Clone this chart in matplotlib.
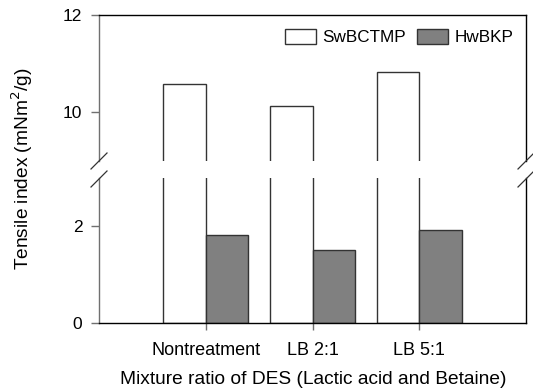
import numpy as np
import matplotlib
matplotlib.use("Agg")
import matplotlib.pyplot as plt
from matplotlib.lines import Line2D

plt.rcParams['font.family'] = ['Liberation Sans', 'DejaVu Sans']

# data
groups = ["Nontreatment", "LB 2:1", "LB 5:1"]
sw_bctmp = [10.58, 10.12, 10.82]
hw_bkp = [1.83, 1.52, 1.92]

W, H = 533, 392
fig = plt.figure(figsize=(W / 100, H / 100), dpi=100)

# axes in pixel coords: left 99, right 526, upper panel 15-161, lower 178-323
def px_axes(l, t, r, b):
    return fig.add_axes([l / W, 1 - b / H, (r - l) / W, (b - t) / H])

ax_top = px_axes(99, 15, 526, 161)
ax_bot = px_axes(99, 178, 526, 323)

x = np.arange(1, len(groups) + 1)
bw = 0.4
edge = '#333333'
for ax in (ax_top, ax_bot):
    ax.bar(x - bw / 2, sw_bctmp, bw, color='white', edgecolor=edge, linewidth=1, label='SwBCTMP')
    ax.bar(x + bw / 2, hw_bkp, bw, color='#808080', edgecolor=edge, linewidth=1, label='HwBKP')
    ax.set_xlim(0, 4)
    for s in ax.spines.values():
        s.set_linewidth(1)
    ax.spines['left'].set_color('#707070')
    ax.tick_params(direction='out', length=6, width=1, color='#707070', labelsize=12.5)
    ax.tick_params(axis='y', pad=6)

ax_top.set_ylim(9, 12)
ax_top.set_yticks([10, 12])
ax_top.spines['bottom'].set_visible(False)
ax_top.tick_params(axis='x', bottom=False, labelbottom=False)

ax_bot.set_ylim(0, 3)
ax_bot.set_yticks([0, 2])
ax_bot.spines['top'].set_visible(False)
ax_bot.set_xticks(x)
ax_bot.set_xticklabels(groups, fontsize=13)
ax_bot.tick_params(axis='x', length=5, pad=9)

# break marks on both sides
for xp in (99, 526):
    for yp in (161, 179):
        fig.add_artist(Line2D([(xp - 8) / W, (xp + 8) / W],
                              [1 - (yp + 8) / H, 1 - (yp - 8) / H],
                              color='#333333', linewidth=0.9))

ax_top.legend(loc='upper right', bbox_to_anchor=(0.99, 0.96), ncol=2, frameon=False,
              fontsize=12.3, borderpad=0, handlelength=1.8, handleheight=0.9,
              handletextpad=0.36, columnspacing=0.7)

fig.text(22 / W, 1 - 169 / H, 'Tensile index (mNm$^2$/g)', rotation=90,
         ha='center', va='center', fontsize=13.8)
fig.text(313 / W, 1 - 380 / H, 'Mixture ratio of DES (Lactic acid and Betaine)',
         ha='center', va='center', fontsize=13.8)

fig.savefig('out.png', dpi=100)
